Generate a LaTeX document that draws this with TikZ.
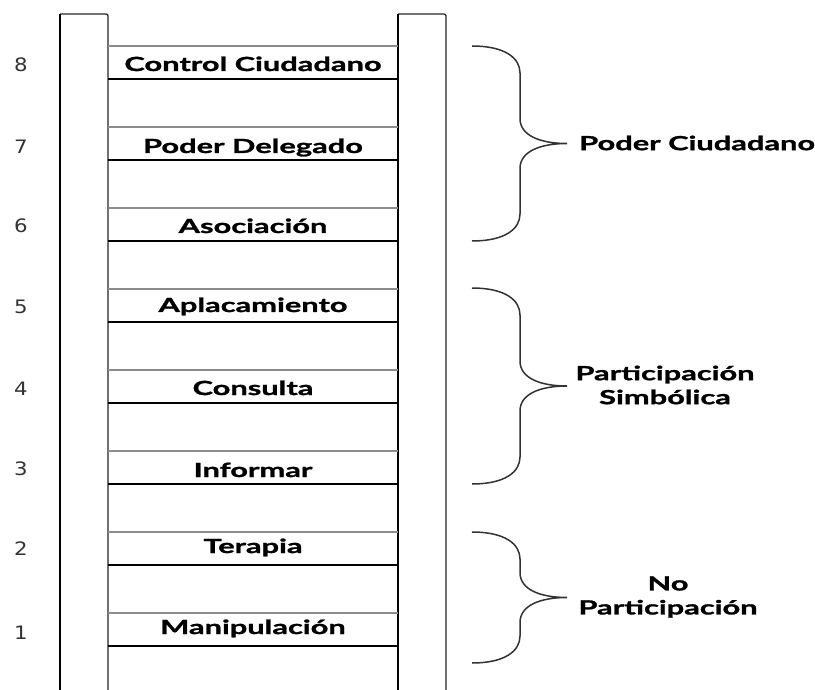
\documentclass[tikz,border=0pt]{standalone}
\usepackage{fontspec}
\setmainfont{Lato}
\newfontfamily\lblfont{Lato}[FakeStretch=1.58,FakeBold=1.4]
\newfontfamily\numfont{DejaVu Sans}[FakeStretch=1.15]
\newcommand{\mybrace}[4]{% top, bottom, mid, name
  \coordinate (#4t) at (472,#1);
  \coordinate (#4b) at (472,#2);
  \coordinate (#4m) at (567,#3);
  \draw[bracestyle] (#4t) .. controls (505,#1) and (520,{#1+12}) .. (520,{#1+27})
     -- (520,{#3-25}) .. controls (520,{#3-8}) and (540,#3) .. (#4m)
     .. controls (540,#3) and (520,{#3+8}) .. (520,{#3+25})
     -- (520,{#2-27}) .. controls (520,{#2-12}) and (505,#2) .. (#4b);
}
\begin{document}
\begin{tikzpicture}[x=1pt,y=-1pt,
  thickline/.style={line width=2.4pt,black},
  thinline/.style={line width=1.3pt,black!85},
  runglight/.style={line width=1.3pt,black!45},
  rungdark/.style={line width=2.4pt,black},
  rungtext/.style={font=\lblfont\bfseries\fontsize{19.5}{23.4}\selectfont,inner sep=0pt},
  numtext/.style={font=\numfont\fontsize{18.5}{20}\selectfont,text=black!80,inner sep=0pt},
  bracestyle/.style={line width=1.5pt,black!80},
  grouptext/.style={font=\lblfont\bfseries\fontsize{19.5}{24}\selectfont,align=center,inner sep=0pt}]
\useasboundingbox[fill=white] (0,0) rectangle (815,690);
% rails
\coordinate (l1) at (60,690); \coordinate (l2) at (60,14);
\coordinate (l3) at (108,14); \coordinate (l4) at (108,690);
\coordinate (r1) at (398,690); \coordinate (r2) at (398,14);
\coordinate (r3) at (446,14); \coordinate (r4) at (446,690);
\draw[thinline,rounded corners=2pt] (l2) -- (l3) -- (l4);
\draw[thickline,rounded corners=2pt] (l1) -- (l2);
\draw[thinline,rounded corners=2pt] (r2) -- (r3) -- (r4);
\draw[thickline] (r1) -- (r2);
% rungs
\foreach \i/\txt/\ny/\by in {1/Manipulación/633/634,2/Terapia/548.5/553,3/Informar/469/477,4/Consulta/388.5/395,5/Aplacamiento/306.5/312,6/Asociación/226/233,7/Poder Delegado/147/153,8/Control Ciudadano/65/71}{
  \pgfmathsetmacro{\yt}{613-(\i-1)*81}
  \pgfmathsetmacro{\yb}{\yt+33}
  \coordinate (a\i) at (108,\yt); \coordinate (b\i) at (398,\yt);
  \coordinate (c\i) at (108,\yb); \coordinate (d\i) at (398,\yb);
  \draw[runglight] (a\i) -- (b\i);
  \draw[rungdark] (c\i) -- (d\i);
  \node[rungtext,anchor=base] (t\i) at (253,\by) {\txt};
  \node[numtext] (n\i) at (21,\ny) {\i};
}
% braces
\mybrace{46}{241}{143.5}{bA}
\mybrace{288}{484}{386}{bB}
\mybrace{532}{663}{597.5}{bC}
\node[grouptext,anchor=west] (gA) at (579,143) {Poder Ciudadano};
\node[grouptext] (gB) at (665,385) {Participación\\Simbólica};
\node[grouptext] (gC) at (668,597) {No\\Participación};
\end{tikzpicture}
\end{document}
